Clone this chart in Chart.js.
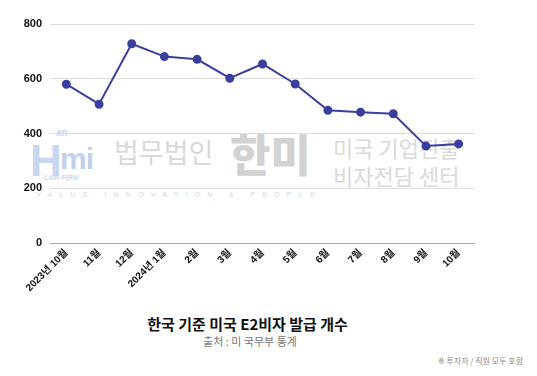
<!DOCTYPE html>
<html><head><meta charset="utf-8">
<script src="https://cdn.jsdelivr.net/npm/chart.js@4"></script>
<style>
html,body{margin:0;padding:0;background:#fff;width:537px;height:376px;overflow:hidden;font-family:"Liberation Sans","Noto Sans CJK KR",sans-serif;}
#wrap{position:absolute;left:0;top:0;width:537px;height:300px;}
canvas{position:absolute;left:0;top:0;z-index:2;}
.wm{position:absolute;z-index:1;white-space:nowrap;font-family:"Noto Sans CJK KR",sans-serif;line-height:1;}
.t{position:absolute;white-space:nowrap;font-family:"Noto Sans CJK KR",sans-serif;line-height:1;}
</style></head>
<body>
<div class="wm" style="left:30px;top:136px;font:900 44px 'Liberation Sans';color:#c9d6ef;">H</div>
<div class="wm" style="left:56px;top:127px;font:700 10px 'Liberation Sans';color:#c9d6ef;">an</div>
<div class="wm" style="left:60px;top:142px;font:900 30px 'Liberation Sans';color:#c2d0ec;letter-spacing:-1px;">mi</div>
<div class="wm" style="left:44px;top:174px;font:700 7px 'Liberation Sans';color:#cfd9ee;">LAW FIRM</div>
<div class="wm" style="left:114px;top:138px;font-size:27px;color:#d9d9d9;">법무법인</div>
<div class="wm" style="left:230px;top:131px;font-size:44px;font-weight:900;color:#d2d2d2;">한미</div>
<div class="wm" style="left:333px;top:136px;font-size:22px;color:#d9d9d9;">미국 기업진출</div>
<div class="wm" style="left:333px;top:164px;font-size:22px;color:#d9d9d9;">비자전담 센터</div>
<div class="wm" style="left:36px;top:191px;font:400 7px 'Liberation Sans';color:#d2d8e6;letter-spacing:7.3px;">VALUE INNOVATION &amp; PEOPLE</div>
<div id="wrap"><canvas id="c" width="537" height="300"></canvas></div>
<div class="t" style="left:0;width:495px;text-align:center;top:316px;font-size:15px;font-weight:700;color:#111;">한국 기준 미국 E2비자 발급 개수</div>
<div class="t" style="left:0;width:500px;text-align:center;top:336px;font-size:11px;color:#777;">출처 : 미 국무부 통계</div>
<div class="t" style="right:14px;top:357px;font-size:8px;color:#888;"><span style="font-family:'DejaVu Sans';">&#x203B;</span> 투자자 / 직원 모두 포함</div>
<script>
const categories = ["2023년 10월","11월","12월","2024년 1월","2월","3월","4월","5월","6월","7월","8월","9월","10월"];
const issued = [580, 507, 728, 681, 671, 602, 654, 581, 485, 478, 472, 354, 362];
const yTicks = [0, 200, 400, 600, 800];

new Chart(document.getElementById('c'), {
  type: 'line',
  data: {
    labels: categories,
    datasets: [{
      data: issued,
      borderColor: '#3a3f9f',
      backgroundColor: '#3a3f9f',
      borderWidth: 2,
      pointRadius: 3.5,
      pointHoverRadius: 3.5,
      tension: 0,
      fill: false
    }]
  },
  options: {
    responsive: false,
    animation: false,
    layout: { padding: { top: 24, right: 62, left: 0, bottom: 0 } },
    plugins: { legend: { display: false }, tooltip: { enabled: false } },
    scales: {
      x: {
        offset: true,
        grid: { display: false, drawTicks: false },
        border: { display: false },
        ticks: {
          autoSkip: false, maxRotation: 45, minRotation: 45, padding: 4,
          color: '#111',
          font: { family: "'Liberation Sans','Noto Sans CJK KR'", size: 10, weight: 'bold' }
        },
        afterFit: s => { s.height = 57; }
      },
      y: {
        min: 0, max: 800,
        afterBuildTicks: s => { s.ticks = yTicks.map(v => ({ value: v })); },
        grid: {
          drawTicks: false,
          lineWidth: 1,
          color: ctx => ctx.tick && ctx.tick.value === 0 ? '#a8a8a8' : '#dedede'
        },
        border: { display: false },
        ticks: {
          padding: 8, color: '#111',
          font: { family: "'Liberation Sans'", size: 11, weight: 'bold' }
        },
        afterFit: s => { s.width = 50; }
      }
    }
  }
});
</script>
</body></html>
